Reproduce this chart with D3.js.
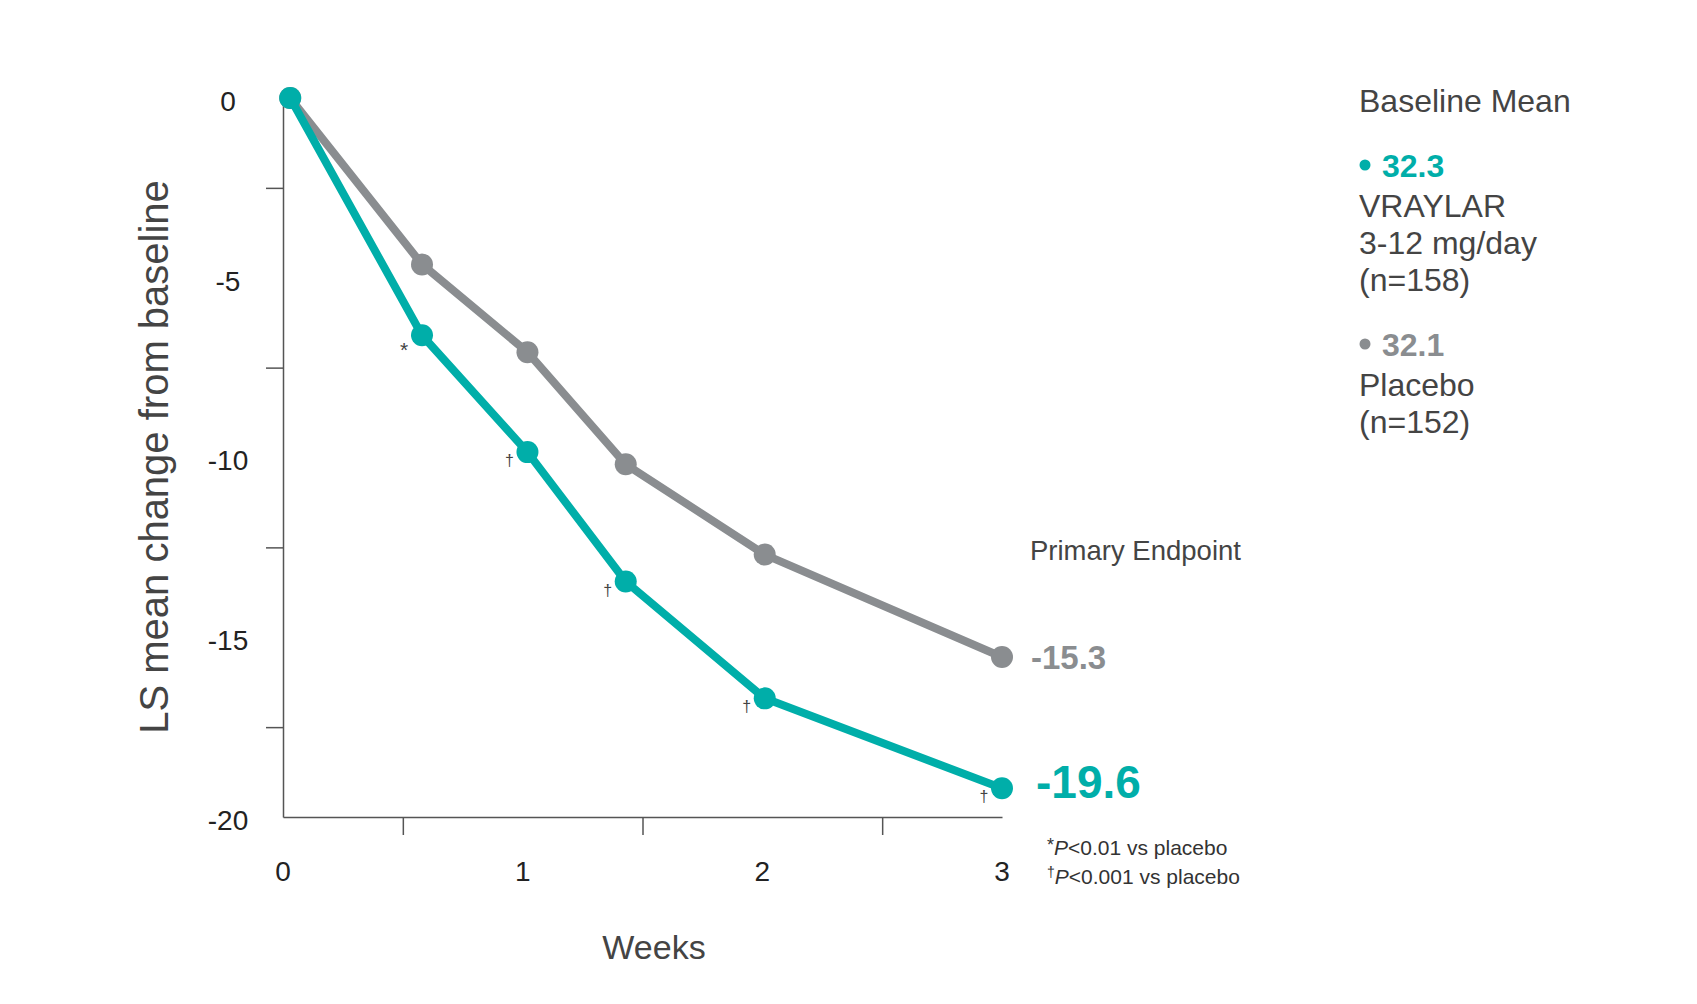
<!DOCTYPE html>
<html>
<head>
<meta charset="utf-8">
<script src="https://cdn.jsdelivr.net/npm/d3@7"></script>
<style>
  html, body { margin: 0; padding: 0; background: #fff; }
  svg { display: block; font-family: "Liberation Sans", Arial, sans-serif; }
</style>
</head>
<body>
<svg id="chart" width="1697" height="1004"></svg>
<script>
// data
var weeks = [0.03, 0.58, 1.02, 1.43, 2.01, 3];
var vraylar = [0, -6.6, -9.85, -13.45, -16.7, -19.2];
var placebo = [0, -4.63, -7.07, -10.19, -12.7, -15.55];
var sigMarks = ['', '*', '\u2020', '\u2020', '\u2020', '\u2020'];

var yLabels = [0, -5, -10, -15, -20];
var yMinor = [-2.5, -7.5, -12.5, -17.5];
var xLabels = [0, 1, 2, 3];
var xMinor = [0.5, 1.5, 2.5];

var endLabels = { vraylar: '-19.6', placebo: '-15.3' };
var baselineValues = ['32.3', '32.1'];
var vraylarLines = ['VRAYLAR', '3-12 mg/day', '(n=158)'];
var placeboLines = ['Placebo', '(n=152)'];

var teal = '#00aea9';
var grey = '#8a8d90';
var axisColor = '#555';
var textColor = '#444';

var svg = d3.select('#chart');

var x = d3.scaleLinear().domain([0, 3]).range([283, 1002]);
var y = d3.scaleLinear().domain([0, -20]).range([98, 817]);

// y axis: minor ticks only, labels sit on the whole fives
svg.append('g')
    .attr('transform', 'translate(' + x(0) + ',0)')
    .call(d3.axisLeft(y).tickValues(yMinor).tickFormat('').tickSize(17).tickSizeOuter(0))
    .call(function (g) {
        g.selectAll('path, line').attr('stroke', axisColor).attr('stroke-width', 1.5);
    });

svg.append('g').selectAll('text')
    .data(yLabels)
    .enter().append('text')
    .attr('x', 228)
    .attr('y', function (d) { return y(d) + 3; })
    .attr('dy', '0.35em')
    .attr('text-anchor', 'middle')
    .attr('font-size', 28)
    .attr('fill', '#222')
    .text(function (d) { return d; });

// x axis
svg.append('g')
    .attr('transform', 'translate(0,' + y(-20) + ')')
    .call(d3.axisBottom(x).tickValues(xMinor).tickFormat('').tickSize(18).tickSizeOuter(0))
    .call(function (g) {
        g.selectAll('path, line').attr('stroke', axisColor).attr('stroke-width', 1.5);
    });

svg.append('g').selectAll('text')
    .data(xLabels)
    .enter().append('text')
    .attr('x', function (d) { return x(d); })
    .attr('y', y(-20) + 64)
    .attr('text-anchor', 'middle')
    .attr('font-size', 28)
    .attr('fill', '#222')
    .text(function (d) { return d; });

// axis titles
svg.append('text')
    .attr('transform', 'translate(154,457) rotate(-90)')
    .attr('text-anchor', 'middle')
    .attr('dominant-baseline', 'central')
    .attr('font-size', 40)
    .attr('fill', textColor)
    .text('LS mean change from baseline');

svg.append('text')
    .attr('x', 654)
    .attr('y', 959)
    .attr('text-anchor', 'middle')
    .attr('font-size', 34)
    .attr('fill', textColor)
    .text('Weeks');

// lines
var line = d3.line()
    .x(function (d) { return x(d.w); })
    .y(function (d) { return y(d.v); });

function series(vals) {
    return weeks.map(function (w, i) { return { w: w, v: vals[i], i: i }; });
}

var groups = [
    { key: 'placebo', color: grey, pts: series(placebo) },
    { key: 'vraylar', color: teal, pts: series(vraylar) }
];

groups.forEach(function (s) {
    var g = svg.append('g').attr('class', 'series-' + s.key);
    g.append('path')
        .attr('d', line(s.pts))
        .attr('fill', 'none')
        .attr('stroke', s.color)
        .attr('stroke-width', 8)
        .attr('stroke-linejoin', 'round');
    g.selectAll('circle')
        .data(s.pts)
        .enter().append('circle')
        .attr('cx', function (d) { return x(d.w); })
        .attr('cy', function (d) { return y(d.v); })
        .attr('r', 11)
        .attr('fill', s.color);
});

// significance marks beside the VRAYLAR points
svg.append('g').selectAll('text')
    .data(series(vraylar).filter(function (d) { return sigMarks[d.i]; }))
    .enter().append('text')
    .attr('x', function (d) { return x(d.w) - 18; })
    .attr('y', function (d) { return y(d.v) + (sigMarks[d.i] === '*' ? 22 : 14); })
    .attr('text-anchor', 'middle')
    .attr('font-size', function (d) { return sigMarks[d.i] === '*' ? 21 : 16; })
    .attr('fill', textColor)
    .text(function (d) { return sigMarks[d.i]; });

// endpoint labels
var last = weeks.length - 1;
svg.append('text')
    .attr('x', 1030)
    .attr('y', 550)
    .attr('dominant-baseline', 'central')
    .attr('font-size', 27.5)
    .attr('fill', textColor)
    .text('Primary Endpoint');

svg.append('text')
    .attr('x', x(weeks[last]) + 29)
    .attr('y', y(placebo[last]) + 0)
    .attr('dominant-baseline', 'central')
    .attr('font-size', 33)
    .attr('font-weight', 'bold')
    .attr('fill', grey)
    .text(endLabels.placebo);

svg.append('text')
    .attr('x', x(weeks[last]) + 34)
    .attr('y', y(vraylar[last]) - 6)
    .attr('dominant-baseline', 'central')
    .attr('font-size', 46)
    .attr('font-weight', 'bold')
    .attr('fill', teal)
    .text(endLabels.vraylar);

// footnotes
var foot = svg.append('g').attr('font-size', 21).attr('fill', '#333');
var f1 = foot.append('text').attr('x', 1047).attr('y', 855);
f1.append('tspan').attr('font-size', 18).attr('dy', -4).text('*');
f1.append('tspan').attr('font-style', 'italic').attr('dy', 4).text('P');
f1.append('tspan').text('<0.01 vs placebo');
var f2 = foot.append('text').attr('x', 1047).attr('y', 884);
f2.append('tspan').attr('font-size', 14).attr('dy', -7).text('\u2020');
f2.append('tspan').attr('font-style', 'italic').attr('dy', 7).text('P');
f2.append('tspan').text('<0.001 vs placebo');

// legend block
var lx = 1359;
var legend = svg.append('g').attr('font-size', 32).attr('fill', textColor);
legend.append('text').attr('x', lx).attr('y', 101).attr('dominant-baseline', 'central').text('Baseline Mean');

function legendItem(top, color, value, lines) {
    legend.append('circle').attr('cx', lx + 6).attr('cy', top).attr('r', 5.5).attr('fill', color);
    legend.append('text')
        .attr('x', lx + 23).attr('y', top + 1)
        .attr('dominant-baseline', 'central')
        .attr('font-weight', 'bold')
        .attr('font-size', 32)
        .attr('fill', color)
        .text(value);
    lines.forEach(function (t, i) {
        legend.append('text')
            .attr('x', lx)
            .attr('y', top + 41 + i * 37)
            .attr('dominant-baseline', 'central')
            .text(t);
    });
}
legendItem(165, teal, baselineValues[0], vraylarLines);
legendItem(344, grey, baselineValues[1], placeboLines);
</script>
</body>
</html>
